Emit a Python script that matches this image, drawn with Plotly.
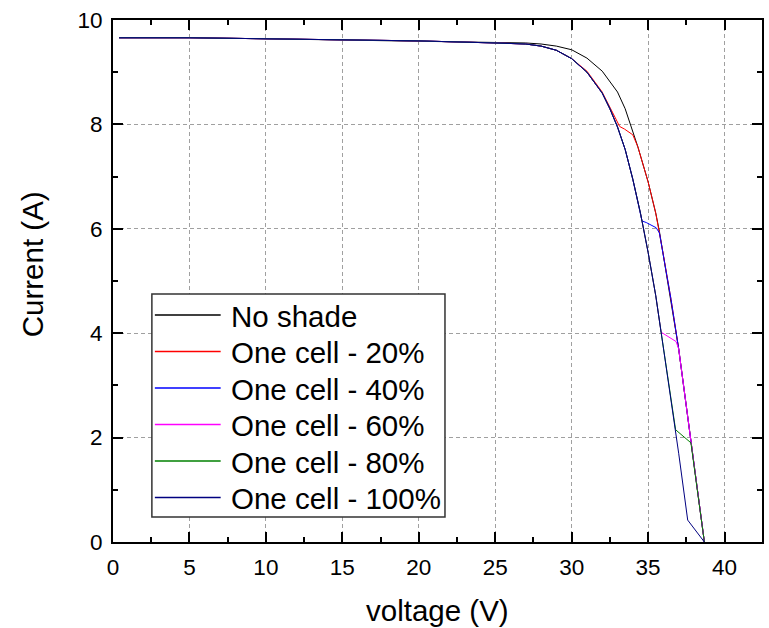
import plotly.graph_objects as go

# ---- data (voltage in V, current in A) ----
v_noshade = [0.4, 5, 10, 15, 20, 25, 27, 28, 29, 30, 31, 32, 33, 33.5, 34, 34.33, 35, 35.5, 35.74, 36, 36.5, 37, 37.5, 38, 38.68]
i_noshade = [9.66, 9.66, 9.64, 9.62, 9.6, 9.57, 9.56, 9.54, 9.5, 9.43, 9.27, 9.02, 8.62, 8.3, 7.88, 7.57, 6.9, 6.3, 5.95, 5.5, 4.65, 3.7, 2.6, 1.5, 0]

v_20 = [0.4, 5, 10, 15, 20, 25, 27, 28, 29, 30, 31, 32, 32.5, 33.14, 33.46, 34.0, 34.33, 35, 35.5, 35.74, 36, 36.5, 37, 37.5, 38, 38.68]
i_20 = [9.66, 9.66, 9.64, 9.62, 9.6, 9.56, 9.54, 9.5, 9.42, 9.26, 9.02, 8.62, 8.32, 7.96, 7.91, 7.8, 7.57, 6.9, 6.3, 5.95, 5.5, 4.65, 3.7, 2.6, 1.5, 0]

v_40 = [0.4, 5, 10, 15, 20, 25, 27, 28, 29, 30, 31, 32, 32.5, 33, 33.5, 34, 34.5, 34.6, 34.88, 35.53, 35.74, 36, 36.5, 37, 37.5, 38, 38.68]
i_40 = [9.66, 9.66, 9.64, 9.62, 9.6, 9.56, 9.54, 9.5, 9.42, 9.26, 9.0, 8.6, 8.3, 7.95, 7.52, 6.95, 6.3, 6.15, 6.12, 6.02, 5.92, 5.5, 4.65, 3.7, 2.6, 1.5, 0]

v_60 = [0.4, 5, 10, 15, 20, 25, 27, 28, 29, 30, 31, 32, 32.5, 33, 33.5, 34, 34.5, 35, 35.5, 35.85, 36.83, 37, 37.5, 38, 38.68]
i_60 = [9.66, 9.66, 9.64, 9.62, 9.6, 9.56, 9.54, 9.5, 9.42, 9.26, 9.0, 8.6, 8.3, 7.95, 7.52, 6.95, 6.3, 5.55, 4.72, 4.02, 3.84, 3.7, 2.6, 1.5, 0]

v_80 = [0.4, 5, 10, 15, 20, 25, 27, 28, 29, 30, 31, 32, 32.5, 33, 33.5, 34, 34.5, 35, 35.5, 35.85, 36, 36.5, 36.8, 37.8, 38.68]
i_80 = [9.66, 9.66, 9.64, 9.62, 9.6, 9.56, 9.54, 9.5, 9.42, 9.26, 9.0, 8.6, 8.3, 7.95, 7.52, 6.95, 6.3, 5.55, 4.72, 4.02, 3.72, 2.78, 2.15, 1.9, 0]

v_100 = [0.4, 5, 10, 15, 20, 25, 27, 28, 29, 30, 31, 32, 32.5, 33, 33.5, 34, 34.5, 35, 35.5, 35.85, 36, 36.5, 36.8, 37, 37.59, 38.68]
i_100 = [9.66, 9.66, 9.64, 9.62, 9.6, 9.56, 9.54, 9.5, 9.42, 9.26, 9.0, 8.6, 8.3, 7.95, 7.52, 6.95, 6.3, 5.55, 4.72, 4.02, 3.72, 2.78, 2.15, 1.7, 0.42, 0]

series_names = ["No shade", "One cell - 20%", "One cell - 40%", "One cell - 60%", "One cell - 80%", "One cell - 100%"]
series_colors = ["#000000", "#ff0000", "#0000ff", "#ff00ff", "#008000", "#000080"]
series_v = [v_noshade, v_20, v_40, v_60, v_80, v_100]
series_i = [i_noshade, i_20, i_40, i_60, i_80, i_100]

x_title = "voltage (V)"
y_title = "Current (A)"

FONT = "Liberation Sans, Arial, sans-serif"
W, H = 769, 628
ML, MR, MT, MB = 113, 5, 20, 86
PW, PH = W - ML - MR, H - MT - MB


def px2paper(px, py):
    return (px - ML) / PW, (H - MB - py) / PH


fig = go.Figure()
for name, v, cur, col in zip(series_names, series_v, series_i, series_colors):
    fig.add_trace(go.Scatter(x=v, y=cur, mode="lines", name=name,
                             line=dict(color=col, width=1), showlegend=False))

# ---- hand-built legend box (Origin-style) ----
shapes = []
annotations = []
bx0, by0 = px2paper(152, 517)
bx1, by1 = px2paper(446, 294)
shapes.append(dict(type="rect", xref="paper", yref="paper", x0=bx0, y0=by0, x1=bx1, y1=by1,
                   line=dict(color="#333333", width=1.5), fillcolor="white", layer="above"))
row_py = [315, 351.5, 388, 424.5, 461, 497.5]
for k, (name, col) in enumerate(zip(series_names, series_colors)):
    lx0, ly = px2paper(155, row_py[k])
    lx1, _ = px2paper(221, row_py[k])
    shapes.append(dict(type="line", xref="paper", yref="paper", x0=lx0, x1=lx1, y0=ly, y1=ly,
                       line=dict(color=col, width=1.5), layer="above"))
    tx, ty = px2paper(229, row_py[k] + 1)
    annotations.append(dict(text=name, xref="paper", yref="paper", x=tx, y=ty,
                            xanchor="left", yanchor="middle", showarrow=False,
                            font=dict(family=FONT, size=29.5, color="black")))

annotations.append(dict(text=x_title, xref="paper", yref="paper", x=0.5, y=px2paper(0, 610)[1],
                        xanchor="center", yanchor="middle", showarrow=False,
                        font=dict(family=FONT, size=29.5, color="black")))
ytx, yty = px2paper(32, 264)
annotations.append(dict(text=y_title, xref="paper", yref="paper", x=ytx, y=yty,
                        xanchor="center", yanchor="middle", showarrow=False, textangle=-90,
                        font=dict(family=FONT, size=29.5, color="black")))

fig.update_layout(
    width=W, height=H,
    margin=dict(l=ML, r=MR, t=MT, b=MB),
    paper_bgcolor="white", plot_bgcolor="white",
    font=dict(family=FONT, color="black"),
    showlegend=False,
    shapes=shapes,
    annotations=annotations,
)

axis_common = dict(
    ticks="inside", ticklen=10, tickwidth=2, tickcolor="black",
    showline=True, linewidth=2, linecolor="black", mirror="allticks",
    showgrid=True, gridcolor="#a0a0a0", gridwidth=1, griddash="4px,3px",
    zeroline=False, tickfont=dict(family=FONT, size=22.5, color="black"),
    layer="above traces",
)
fig.update_xaxes(range=[0, 42.45], tick0=0, dtick=5, ticklabelstandoff=4,
                 minor=dict(dtick=2.5, tick0=0, ticks="inside", ticklen=5, tickwidth=2,
                            tickcolor="black", showgrid=False),
                 **axis_common)
fig.update_yaxes(range=[0, 10], tick0=0, dtick=2, ticklabelstandoff=4,
                 minor=dict(dtick=1, tick0=0, ticks="inside", ticklen=5, tickwidth=2,
                            tickcolor="black", showgrid=False),
                 **axis_common)

fig.write_html("out.html")
